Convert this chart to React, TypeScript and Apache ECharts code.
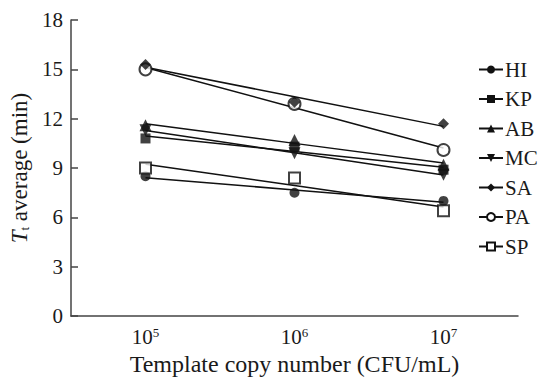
import React, { useEffect, useRef } from "react";
import * as echarts from "echarts";

const categories = ["5", "6", "7"]; // exponents of 10
const yTicks = [0, 3, 6, 9, 12, 15, 18];

const HI = [8.5, 7.5, 7.0];
const KP = [10.8, 10.3, 8.9];
const AB = [11.6, 10.7, 9.2];
const MC = [11.3, 9.9, 8.6];
const SA = [15.3, 13.0, 11.7];
const PA = [15.0, 12.9, 10.1];
const SP = [9.0, 8.4, 6.4];

const seriesNames = ["HI", "KP", "AB", "MC", "SA", "PA", "SP"];
const seriesValues = [HI, KP, AB, MC, SA, PA, SP];

type Mk = { symbol: string; size: number; rotate?: number; hollow?: boolean; legendSymbol: string; z: number };
const markers: Mk[] = [
  { symbol: "circle", size: 10, legendSymbol: "circle", z: 3 },
  { symbol: "rect", size: 10, legendSymbol: "rect", z: 3 },
  { symbol: "triangle", size: 12, legendSymbol: "triangle", z: 3 },
  { symbol: "triangle", size: 12, rotate: 180, legendSymbol: "triangle", z: 3 },
  { symbol: "diamond", size: 11, legendSymbol: "diamond", z: 5 },
  { symbol: "circle", size: 12, hollow: true, legendSymbol: "emptyCircle", z: 4 },
  { symbol: "rect", size: 11, hollow: true, legendSymbol: "emptyRect", z: 4 },
];

// least-squares linear fit across the (equally spaced) log10 categories
function fit(vals: number[]): number[] {
  const n = vals.length;
  const xs = vals.map((_, i) => i);
  const mx = xs.reduce((a, b) => a + b, 0) / n;
  const my = vals.reduce((a, b) => a + b, 0) / n;
  let sxy = 0, sxx = 0;
  xs.forEach((x, i) => { sxy += (x - mx) * (vals[i] - my); sxx += (x - mx) * (x - mx); });
  const b = sxy / sxx;
  return xs.map((x) => +(my + b * (x - mx)).toFixed(3));
}

const FONT = "Liberation Serif";
const TXT = "#1a1a1a";
const AX = "#444";

export default function App() {
  const ref = useRef<HTMLDivElement>(null);
  useEffect(() => {
    if (!ref.current) return;
    const chart = echarts.init(ref.current, undefined, { renderer: "svg" });
    const series: any[] = [];
    seriesNames.forEach((name, k) => {
      const m = markers[k];
      series.push({
        type: "line",
        name,
        data: fit(seriesValues[k]),
        symbol: m.legendSymbol,
        symbolRotate: m.rotate || 0,
        showSymbol: false,
        lineStyle: { color: "#111", width: 1.5 },
        itemStyle: { color: "#111" },
        z: 2,
        silent: true,
      });
    });
    seriesNames.forEach((name, k) => {
      const m = markers[k];
      series.push({
        type: "scatter",
        name: name + "_pts",
        data: seriesValues[k],
        symbol: m.symbol,
        symbolSize: m.size,
        symbolRotate: m.rotate || 0,
        itemStyle: m.hollow
          ? { color: "#fff", borderColor: "#111", borderWidth: 2 }
          : { color: "#111" },
        z: m.z,
        silent: true,
      });
    });
    chart.setOption({
      animation: false,
      backgroundColor: "#fff",
      textStyle: { fontFamily: FONT, color: TXT },
      grid: { left: 71, top: 20, width: 447, height: 297, containLabel: false },
      legend: {
        data: seriesNames,
        orient: "vertical",
        left: 473,
        top: 54,
        itemWidth: 24,
        itemHeight: 10,
        itemGap: 8.5,
        textStyle: { fontFamily: FONT, fontSize: 21, color: TXT, padding: [0, 0, 0, -3] },
        selectedMode: false,
      },
      xAxis: {
        type: "category",
        data: categories,
        boundaryGap: true,
        axisLine: { lineStyle: { color: AX, width: 1.5 } },
        axisTick: { inside: true, alignWithLabel: true, length: 7, lineStyle: { color: AX, width: 1.5 } },
        axisLabel: {
          margin: 10,
          formatter: (v: string) => `{b|10}{s|${v}}`,
          rich: {
            b: { fontFamily: FONT, fontSize: 21, color: TXT },
            s: { fontFamily: FONT, fontSize: 13, color: TXT, verticalAlign: "top" },
          },
        },
        name: "Template copy number (CFU/mL)",
        nameLocation: "middle",
        nameGap: 24,
        nameTextStyle: { fontFamily: FONT, fontSize: 24, color: TXT, verticalAlign: "top" },
      },
      yAxis: {
        type: "value",
        min: 0,
        max: 18,
        interval: 3,
        splitLine: { show: false },
        axisLine: { show: true, lineStyle: { color: AX, width: 1.5 } },
        axisTick: { show: true, inside: true, length: 7, lineStyle: { color: AX, width: 1.5 } },
        axisLabel: {
          margin: 8,
          fontFamily: FONT,
          fontSize: 21,
          color: TXT,
          formatter: (v: number) => (yTicks.includes(v) ? String(v) : ""),
        },
        name: "{i|T}{s|t} average (min)",
        nameLocation: "middle",
        nameGap: 36,
        nameTextStyle: {
          fontFamily: FONT,
          fontSize: 23,
          color: TXT,
          rich: {
            i: { fontFamily: FONT, fontSize: 23, fontStyle: "italic", color: TXT },
            s: { fontFamily: FONT, fontSize: 13, color: TXT, verticalAlign: "bottom" },
          },
        },
      },
      series,
    });
    return () => chart.dispose();
  }, []);
  return (
    <div
      ref={ref}
      style={{ position: "absolute", left: 0, top: 0, width: 546, height: 381 }}
    />
  );
}
